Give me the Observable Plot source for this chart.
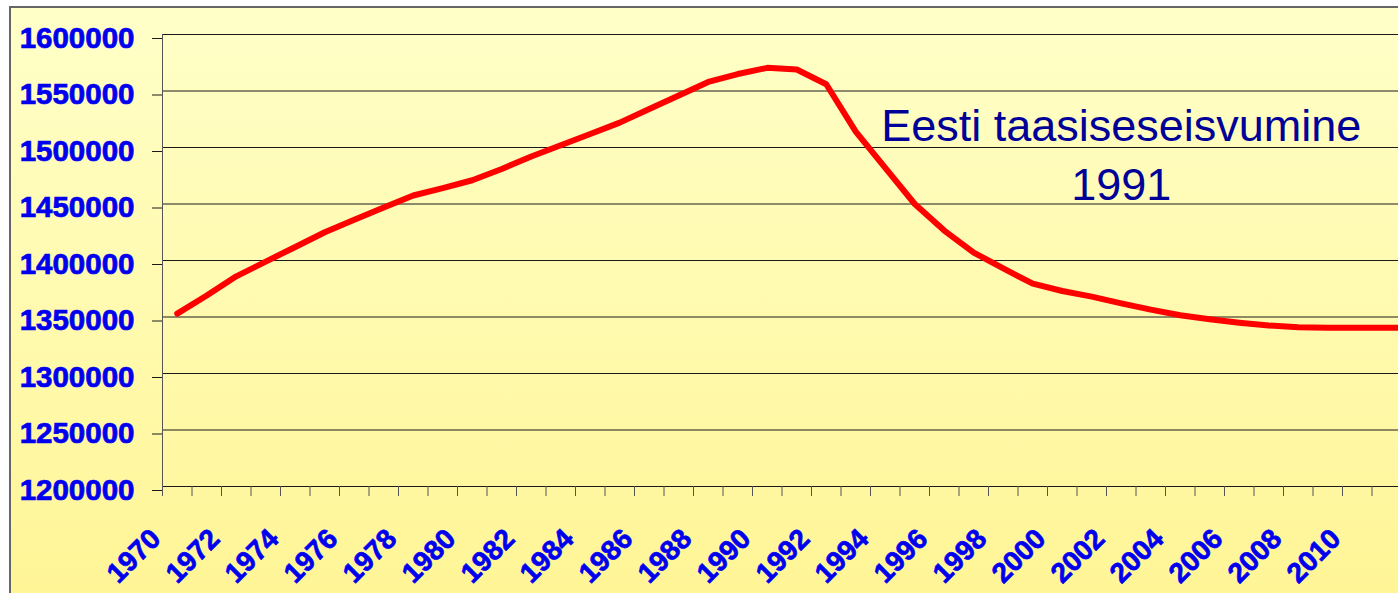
<!DOCTYPE html>
<html>
<head>
<meta charset="utf-8">
<script src="https://cdn.jsdelivr.net/npm/d3@7"></script>
<script src="https://cdn.jsdelivr.net/npm/@observablehq/plot@0.6"></script>
<style>
html, body { margin: 0; padding: 0; background: #fff; overflow: hidden; width: 1398px; height: 593px; }
#wrap { position: relative; width: 1398px; height: 593px; overflow: hidden; }
#bg { position: absolute; left: 9px; top: 6px; width: 1500px; height: 700px; border: 2px solid #666;
      background: linear-gradient(to bottom, #FFFFC8 0%, #FFF596 85%); }
#chart { position: absolute; left: 0; top: 0; }
#chart g[aria-label="y-axis tick label"], #chart g[aria-label="x-axis tick label"] { stroke: #0000ee; stroke-width: 0.7px; }
</style>
</head>
<body>
<div id="wrap"><div id="bg"></div><div id="chart"></div></div>
<script>
// Estonian population
const years = [1970,1971,1972,1973,1974,1975,1976,1977,1978,1979,
               1980,1981,1982,1983,1984,1985,1986,1987,1988,1989,
               1990,1991,1992,1993,1994,1995,1996,1997,1998,1999,
               2000,2001,2002,2003,2004,2005,2006,2007,2008,2009,
               2010,2011,2012];
const population = [1353000,1369000,1386000,1399000,1412000,1425000,1436000,1447000,1457500,1464000,
                    1471000,1481000,1492000,1502000,1512000,1522000,1534000,1546000,1558000,1565000,
                    1570500,1569000,1556000,1514000,1482000,1450000,1426500,1407000,1393000,1379500,
                    1373000,1368000,1362000,1356500,1351500,1348000,1345000,1342500,1341000,1340500,
                    1340500,1340500,1340500];
const yTicks = [1200000,1250000,1300000,1350000,1400000,1450000,1500000,1550000,1600000];
const labelYears = [1970,1972,1974,1976,1978,1980,1982,1984,1986,1988,1990,
                    1992,1994,1996,1998,2000,2002,2004,2006,2008,2010];
const annotationLines = ["Eesti taasiseseisvumine", "1991"];
const annotationYear = 2002;
const annotationValue = 1496000;

const data = years.map((year, i) => ({year, value: population[i]}));
const tickBounds = years.map(y => y - 0.5);
const annotation = [{year: annotationYear, value: annotationValue, label: annotationLines.join("\n")}];

const font = "'Liberation Sans', Arial, sans-serif";
const W = 1440;
const chart = Plot.plot({
  width: W,
  height: 593,
  marginLeft: 162,
  marginRight: W - (162 + years.length * 29.5),
  marginTop: 34,
  marginBottom: 107,
  style: {background: "transparent", maxWidth: "none", overflow: "visible", fontFamily: font},
  x: {type: "linear", domain: [years[0] - 0.5, years[years.length - 1] + 0.5], label: null},
  y: {domain: [yTicks[0], yTicks[yTicks.length - 1]], label: null},
  marks: [
    Plot.gridY(yTicks, {stroke: "#1a1a1a", strokeOpacity: 1, strokeWidth: 1}),
    Plot.frame({anchor: "left", stroke: "#555"}),
    Plot.axisY(yTicks, {tickSize: 10, tickPadding: 18, tickFormat: "d", fontSize: 29.5, fontWeight: "bold",
                        fill: "#0000ee", stroke: "#1a1a1a", dy: 4, label: null}),
    Plot.axisX(tickBounds, {tickSize: 10, stroke: "#555", fill: "none", label: null}),
    Plot.axisX(labelYears, {tickSize: 0, tickPadding: 40, tickRotate: -45, textAnchor: "end", lineAnchor: "top",
                            dx: -29, tickFormat: "d", fontSize: 28, fontWeight: "bold", fill: "#0000ee", label: null}),
    Plot.line(data, {x: "year", y: "value", stroke: "#ff0000", strokeWidth: 6}),
    Plot.text(annotation, {x: "year", y: "value", text: "label", fontSize: 45, fill: "#000099",
                           lineHeight: 1.31, lineAnchor: "middle", textAnchor: "middle"})
  ]
});
document.getElementById("chart").appendChild(chart);
</script>
</body>
</html>
